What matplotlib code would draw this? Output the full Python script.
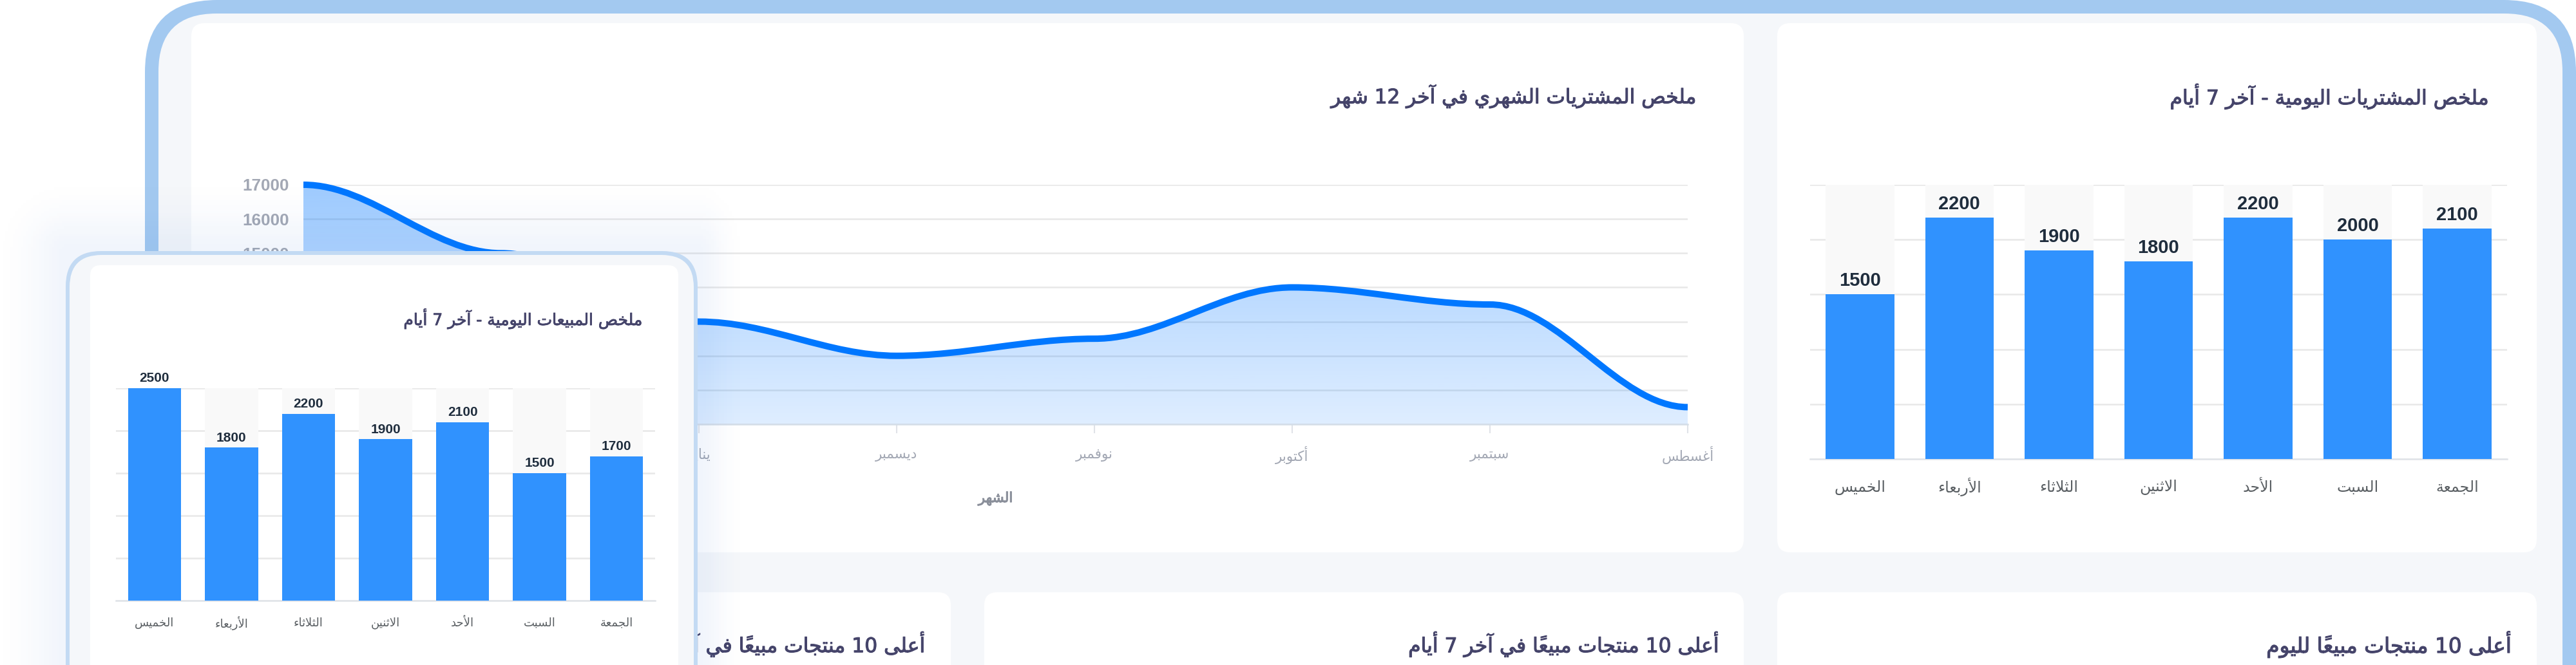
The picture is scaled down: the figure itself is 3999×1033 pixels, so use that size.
import numpy as np
import matplotlib
matplotlib.use("Agg")
import matplotlib.pyplot as plt
import matplotlib.patheffects as pe
from matplotlib.patches import FancyBboxPatch, PathPatch
from matplotlib.path import Path

W, H = 3999, 1033

# data
months = ["مارس", "فبراير", "يناير", "ديسمبر", "نوفمبر", "أكتوبر", "سبتمبر", "أغسطس"]
monthly_values = [17000, 15000, 13000, 12000, 12500, 14000, 13500, 10500]
monthly_ticks = [10000, 11000, 12000, 13000, 14000, 15000, 16000, 17000]

days = ["الخميس", "الأربعاء", "الثلاثاء", "الاثنين", "الأحد", "السبت", "الجمعة"]
purchases_7d = [1500, 2200, 1900, 1800, 2200, 2000, 2100]
sales_7d = [2500, 1800, 2200, 1900, 2100, 1500, 1700]

title_monthly = "ملخص المشتريات الشهري في آخر 12 شهر"
title_purchases = "ملخص المشتريات اليومية - آخر 7 أيام"
title_sales = "ملخص المبيعات اليومية - آخر 7 أيام"
title_month_axis = "الشهر"
title_top_30 = "أعلى 10 منتجات مبيعاً في آخر 30 يوماً"
title_top_7 = "أعلى 10 منتجات مبيعاً في آخر 7 أيام"
title_top_day = "أعلى 10 منتجات مبيعاً لليوم"

BAR = "#3092FE"
TRACK = "#F9F9F9"
GRID = "#E8E8E8"
BASE = "#E0E3E8"
TITLE = "#45446A"
MUTED = "#A3A8B4"
ARABIC = ["DejaVu Sans"]
LATIN = ["Liberation Sans"]

# matplotlib does no Arabic shaping, so pick the presentation forms by hand
dual = "بتثجحخسشصضطظعغفقكلمنهي"
forms = {"ء": (0xFE80,)}
code = 0xFE81
for ch, n in [("آ", 2), ("أ", 2), ("ؤ", 2), ("إ", 2), ("ئ", 4), ("ا", 2), ("ب", 4), ("ة", 2),
              ("ت", 4), ("ث", 4), ("ج", 4), ("ح", 4), ("خ", 4), ("د", 2), ("ذ", 2), ("ر", 2),
              ("ز", 2), ("س", 4), ("ش", 4), ("ص", 4), ("ض", 4), ("ط", 4), ("ظ", 4), ("ع", 4),
              ("غ", 4), ("ف", 4), ("ق", 4), ("ك", 4), ("ل", 4), ("م", 4), ("ن", 4), ("ه", 4),
              ("و", 2), ("ى", 2), ("ي", 4)]:
    forms[ch] = tuple(range(code, code + n))
    code += n
lam_alef = {"آ": 0xFEF5, "أ": 0xFEF7, "إ": 0xFEF9, "ا": 0xFEFB}


def shape(text):
    cl = []
    for ch in text:
        if "\u064b" <= ch <= "\u0652" and cl:
            cl[-1][1] += ch
        elif ch in lam_alef and cl and cl[-1][0] == "ل":
            cl[-1][0] = "ل" + ch
        else:
            cl.append([ch, ""])
    out = []
    for i, (base, marks) in enumerate(cl):
        prev = cl[i - 1][0] if i > 0 else " "
        nxt = cl[i + 1][0] if i + 1 < len(cl) else " "
        join_prev = prev in dual
        join_next = nxt[0] in forms and base in dual
        if len(base) == 2:
            g = chr(lam_alef[base[1]] + (1 if join_prev else 0))
        elif base in forms:
            f = forms[base]
            if len(f) == 4:
                g = chr(f[{(False, False): 0, (True, False): 1, (False, True): 2, (True, True): 3}[(join_prev, join_next)]])
            elif len(f) == 2:
                g = chr(f[1 if join_prev else 0])
            else:
                g = chr(f[0])
        else:
            g = base
        out.append(g + marks)
    out.reverse()
    # digits stay left to right
    i = 0
    while i < len(out):
        j = i
        while j < len(out) and out[j].isdigit():
            j += 1
        if j > i:
            out[i:j] = out[i:j][::-1]
            i = j
        else:
            i += 1
    return "".join(out)


def px_axes(x0, y0, x1, y1, z):
    ax = fig.add_axes([x0 / W, 1 - y1 / H, (x1 - x0) / W, (y1 - y0) / H], zorder=z)
    ax.patch.set_alpha(0)
    return ax


def round_box(ax, x0, y0, x1, y1, r, color):
    ax.add_patch(FancyBboxPatch((x0, y0), x1 - x0, y1 - y0, boxstyle=f"round,pad=0,rounding_size={r}",
                                fc=color, ec="none"))


def card_title(ax, x, y, text, size):
    ax.text(x, y, shape(text), ha="right", va="center", fontsize=size, color=TITLE, family=ARABIC,
            path_effects=[pe.withStroke(linewidth=size * 0.035, foreground=TITLE)])


def smooth_path(xs, ys):
    verts = [(xs[0], ys[0])]
    codes = [Path.MOVETO]
    for k in range(1, len(xs)):
        dx = xs[k] - xs[k - 1]
        verts += [(xs[k - 1] + 0.35 * dx, ys[k - 1]), (xs[k] - 0.35 * dx, ys[k]), (xs[k], ys[k])]
        codes += [Path.CURVE4] * 3
    return verts, codes


def bar_chart(ax, values, label_size, cat_size, label_pad, cat_pad):
    x = np.arange(len(values))
    ax.bar(x, [2500] * len(values), width=0.69, color=TRACK, zorder=2)
    bars = ax.bar(x, values, width=0.69, color=BAR, zorder=3)
    ax.bar_label(bars, padding=label_pad, fontsize=label_size, fontweight="bold", color="#1F2D3D",
                 family=LATIN, zorder=4, clip_on=False)
    ax.set_xlim(-0.5, len(values) - 0.5)
    ax.set_ylim(0, 2500)
    ax.set_yticks([0, 500, 1000, 1500, 2000, 2500])
    ax.set_yticklabels([])
    ax.set_xticks(x)
    ax.set_xticklabels([shape(d) for d in days], fontsize=cat_size, family=ARABIC, color="#5A5F63", va="center")
    ax.tick_params(length=0)
    ax.tick_params(axis="x", pad=cat_pad)
    ax.grid(axis="y", color=GRID, lw=1.8, zorder=1)
    ax.set_axisbelow(True)
    for s in ["top", "left", "right"]:
        ax.spines[s].set_visible(False)
    ax.spines["bottom"].set_color(BASE)
    ax.spines["bottom"].set_linewidth(1.8)


fig = plt.figure(figsize=(W / 100, H / 100), dpi=100, facecolor="white")

# page frame and cards
bg = px_axes(0, 0, W, H, 0)
bg.set_xlim(0, W)
bg.set_ylim(H, 0)
bg.axis("off")
round_box(bg, 225, 0, 3999, 1600, 112, "#A3C9F0")
round_box(bg, 246, 21, 3978, 1600, 90, "#F5F7FA")
round_box(bg, 297, 36, 2707, 858, 20, "white")
round_box(bg, 2759, 36, 3938, 858, 20, "white")
round_box(bg, 297, 920, 1476, 1400, 20, "white")
round_box(bg, 1528, 920, 2707, 1400, 20, "white")
round_box(bg, 2759, 920, 3938, 1400, 20, "white")
card_title(bg, 2635, 150, title_monthly, 22.4)
card_title(bg, 3865, 150, title_purchases, 22.6)
card_title(bg, 1438, 1001, title_top_30, 22.6)
card_title(bg, 2670, 1001, title_top_7, 22.6)
card_title(bg, 3900, 1001, title_top_day, 23.6)

# monthly area chart
ax = px_axes(471, 287, 2620, 659, 1)
xm = np.arange(len(months))
verts, codes = smooth_path(xm, monthly_values)
grad = np.zeros((256, 1, 4))
grad[:, 0, :3] = matplotlib.colors.to_rgb("#0077FF")
grad[:, 0, 3] = np.linspace(0.38, 0.13, 256)
im = ax.imshow(grad, extent=(0, len(months) - 1, 10000, 17000), aspect="auto", origin="upper", zorder=2)
area = PathPatch(Path(verts + [(xm[-1], 10000), (xm[0], 10000), verts[0]],
                      codes + [Path.LINETO, Path.LINETO, Path.CLOSEPOLY]), transform=ax.transData, fc="none", ec="none")
ax.add_patch(area)
im.set_clip_path(area)
ax.add_patch(PathPatch(Path(verts, codes), fc="none", ec="#0077FF", lw=7.2, zorder=3, clip_on=False, capstyle="butt"))
ax.set_xlim(0, len(months) - 1)
ax.set_ylim(10000, 17000)
ax.set_yticks(monthly_ticks)
ax.set_yticklabels([str(v) for v in monthly_ticks], fontsize=18.8, fontweight="bold", family=LATIN, color=MUTED)
ax.set_xticks(xm)
ax.set_xticklabels([shape(m) for m in months], fontsize=15.5, family=ARABIC, color=MUTED, va="center")
ax.tick_params(axis="y", length=0, pad=16)
ax.tick_params(axis="x", length=10, width=1.5, color=BASE, pad=24.5)
ax.grid(axis="y", color=GRID, lw=1.8, zorder=1)
ax.set_axisbelow(True)
for s in ["top", "left", "right"]:
    ax.spines[s].set_visible(False)
ax.spines["bottom"].set_color("#D5DEE8")
ax.spines["bottom"].set_linewidth(1.8)
ax.set_xlabel(shape(title_month_axis), fontsize=15.5, family=ARABIC, color="#8A8F9A", va="center",
              path_effects=[pe.withStroke(linewidth=0.8, foreground="#8A8F9A")])
ax.xaxis.set_label_coords(0.5, (659 - 774) / 372)

# purchases bars
ax2 = px_axes(2810, 287, 3892, 713, 1)
bar_chart(ax2, purchases_7d, 21, 17, 5, 31.5)

# floating card with a faint blue shadow, weaker on the right side
over = px_axes(0, 0, W, H, 5)
over.set_xlim(0, W)
over.set_ylim(H, 0)
over.axis("off")
gx, gy = np.meshgrid(np.arange(0, 1500, 4), np.arange(0, H, 4))
dx = np.maximum(np.maximum(103 - gx, (gx - 1083) * 1.6), 0)
dy = np.maximum(390 - gy, 0)
dist = np.hypot(dx, dy)
glow = np.zeros(gx.shape + (4,))
glow[..., :3] = matplotlib.colors.to_rgb("#2B6CD0")
glow[..., 3] = 0.065 * np.exp(-(dist / 60.0) ** 2)
over.imshow(glow, extent=(0, 1500, H, 0), aspect="auto", zorder=1)
over.set_xlim(0, W)
over.set_ylim(H, 0)
round_box(over, 102, 390, 1083, 1400, 55, "#C3DAF3")
round_box(over, 108, 396, 1077, 1400, 50, "#F5F7FA")
round_box(over, 140, 412, 1053, 1400, 16, "white")
card_title(over, 998, 495, title_sales, 18)

ax3 = px_axes(180, 603, 1017, 933, 6)
bar_chart(ax3, sales_7d, 15, 13, 4, 25)

fig.savefig("out.png", dpi=100)
